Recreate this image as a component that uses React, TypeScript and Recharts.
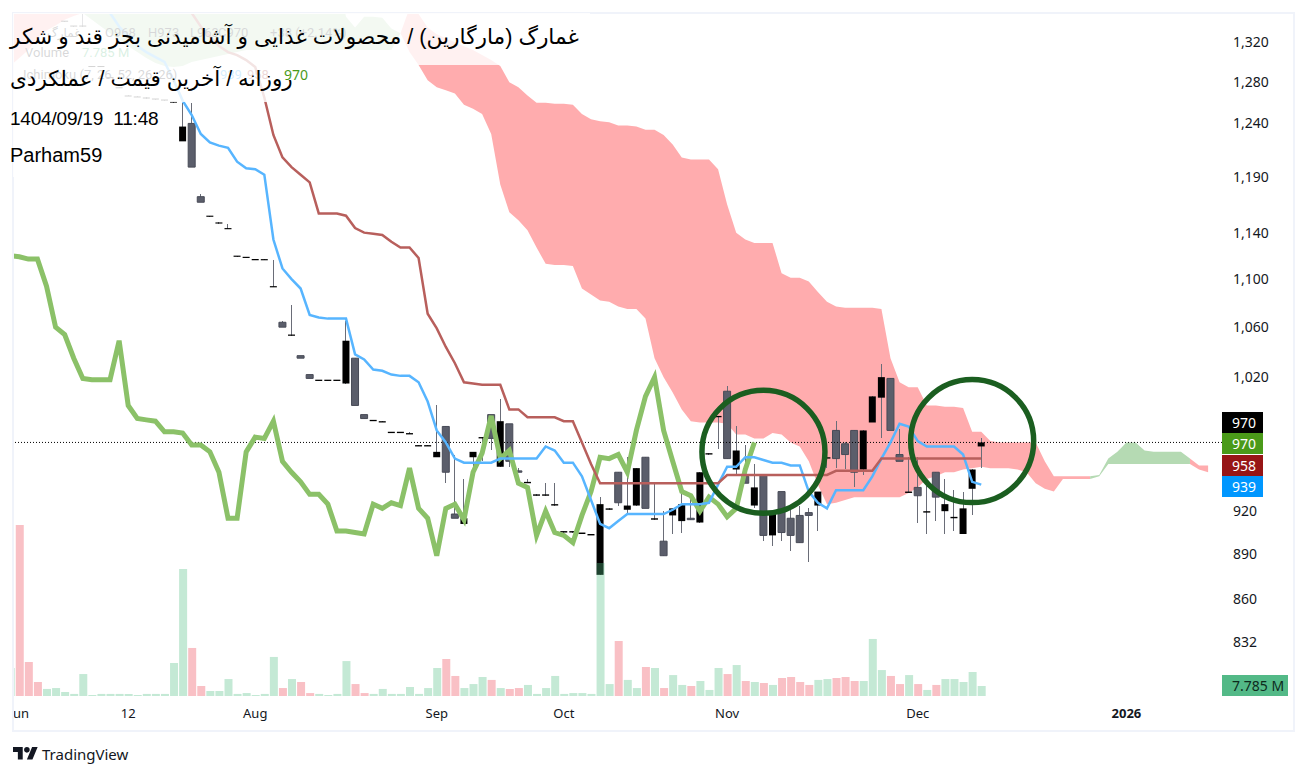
import React from 'react';
import { ComposedChart, Area, Bar, Line, Cell, XAxis, YAxis, ReferenceLine, ReferenceDot } from 'recharts';

const priceTicks = [1320, 1280, 1240, 1190, 1140, 1100, 1060, 1020, 920, 890, 860, 832];
const timeTicks = [0, 12, 26, 46, 60, 78, 99, 122];
const timeLabels = ['Jun', '12', 'Aug', 'Sep', 'Oct', 'Nov', 'Dec', '2026'];

const opens = [
  1480, 1430, 1385, 1370, 1355, 1341, 1336, 1336, 1295, 1295,
  1284, 1274, 1266, 1265, 1264, 1263, 1262, 1260, 1223, 1240,
  1172, 1154, 1148, 1143, 1119, 1118, 1116, 1116, 1093, 1064,
  1053, 1037, 1022, 1017, 1017, 1017, 1015, 1035, 991, 986,
  985, 977, 977, 976, 967, 967, 959, 982, 918, 911,
  959, 973, 991, 952, 984, 949, 940, 931, 931, 924,
  905, 905, 904, 903, 876, 921, 948, 921, 924, 959,
  914, 899, 917, 913, 915, 912, 961, 989, 1009, 950,
  945, 924, 946, 903, 934, 915, 917, 919, 924, 958,
  979, 969, 979, 950, 985, 1004, 1019, 961, 933, 937,
  919, 948, 920, 915, 904, 936, 967,
];
const highs = [
  1490, 1430, 1385, 1375, 1360, 1342, 1337, 1355, 1296, 1296,
  1285, 1275, 1267, 1266, 1265, 1264, 1263, 1261, 1260, 1260,
  1174, 1155, 1149, 1148, 1120, 1119, 1117, 1117, 1116, 1065,
  1078, 1037, 1022, 1018, 1018, 1018, 1065, 1035, 991, 987,
  986, 978, 978, 978, 968, 968, 998, 982, 961, 943,
  963, 974, 991, 1003, 984, 951, 943, 932, 940, 940,
  906, 906, 905, 904, 930, 922, 948, 959, 951, 959,
  940, 920, 922, 932, 930, 948, 962, 990, 1013, 982,
  968, 954, 946, 920, 934, 922, 924, 922, 934, 959,
  986, 970, 979, 979, 1005, 1030, 1019, 980, 959, 959,
  938, 948, 943, 935, 934, 950, 973,
];
const lows = [
  1470, 1420, 1380, 1370, 1355, 1341, 1336, 1336, 1295, 1295,
  1284, 1274, 1266, 1265, 1264, 1263, 1262, 1260, 1223, 1199,
  1167, 1154, 1148, 1143, 1119, 1118, 1116, 1116, 1093, 1060,
  1053, 1035, 1019, 1017, 1017, 1017, 1015, 998, 988, 986,
  985, 977, 977, 976, 967, 967, 959, 940, 915, 911,
  948, 956, 964, 952, 952, 948, 940, 931, 931, 924,
  905, 905, 904, 903, 876, 921, 924, 918, 924, 922,
  914, 889, 904, 905, 914, 912, 961, 965, 958, 945,
  940, 922, 899, 896, 899, 892, 898, 885, 906, 951,
  951, 950, 937, 946, 985, 973, 979, 956, 933, 912,
  904, 913, 904, 906, 904, 917, 951,
];
const closes = [
  1470, 1420, 1380, 1375, 1360, 1342, 1337, 1337, 1296, 1296,
  1285, 1275, 1267, 1266, 1265, 1264, 1263, 1261, 1237, 1199,
  1167, 1155, 1149, 1144, 1120, 1119, 1117, 1117, 1094, 1060,
  1054, 1035, 1019, 1018, 1018, 1018, 1049, 998, 988, 987,
  986, 978, 978, 977, 968, 968, 963, 948, 915, 915,
  963, 974, 973, 986, 956, 948, 941, 932, 932, 925,
  906, 906, 905, 904, 925, 922, 926, 924, 951, 922,
  915, 889, 922, 925, 914, 948, 962, 990, 958, 964,
  940, 937, 903, 920, 905, 903, 898, 917, 934, 959,
  958, 961, 948, 979, 1005, 1020, 979, 956, 934, 931,
  920, 930, 925, 916, 922, 950, 970,
];
// millions
const volumes = [
  133.1, 26.5, 10.9, 5.5, 6.2, 3.1, 1.6, 17.1, 0.8, 1.6,
  1.6, 1.6, 1.6, 0.8, 1.6, 1.6, 1.6, 25.7, 98.9, 37.4,
  7.8, 3.9, 3.9, 13.2, 1.6, 2.3, 0.8, 1.6, 30.4, 6.2,
  13.2, 10.9, 2.3, 1.6, 0.8, 1.6, 27.2, 9.3, 2.3, 1.6,
  5.5, 1.6, 1.6, 7, 1.6, 6.2, 21.8, 28.8, 15.6, 6.2,
  9.3, 14.8, 12.5, 6.2, 5.5, 6.2, 8.6, 1.6, 6.2, 15.6,
  1.6, 2.3, 2.3, 1.6, 103.5, 9.3, 42.8, 12.5, 6.2, 22.6,
  21.8, 6.2, 16.3, 8.6, 7.8, 11.7, 4.7, 21.8, 17.1, 24.1,
  11.7, 10.9, 10.1, 8.6, 14, 14.8, 10.9, 8.6, 12.5, 13.2,
  14, 14.8, 11.7, 11.7, 44.4, 20.2, 15.6, 9.3, 16.3, 9.3,
  4.7, 8.6, 13.2, 13.2, 10.9, 18.7, 7.785,
];

const chikou = [
  1119, 1117, 1117, 1094, 1060, 1054, 1035, 1019, 1018, 1018,
  1018, 1049, 998, 988, 987, 986, 978, 978, 977, 968,
  968, 963, 948, 915, 915, 963, 974, 973, 986, 956,
  948, 941, 932, 932, 925, 906, 906, 905, 904, 925,
  922, 926, 924, 951, 922, 915, 889, 922, 925, 914,
  948, 962, 990, 958, 964, 940, 937, 903, 920, 905,
  903, 898, 917, 934, 959, 958, 961, 948, 979, 1005,
  1020, 979, 956, 934, 931, 920, 930, 925, 916, 922,
  950, 970,
];
const tenkan = [
  null, null, null, null, null, null, null, null, null, null,
  1350, 1336, 1326, 1316, 1310, 1305, 1300, 1282, 1262, 1248,
  1230, 1222, 1219, 1217, 1204, 1198, 1197, 1192, 1134, 1109,
  1100, 1092, 1070, 1068, 1067, 1067, 1067, 1038, 1034, 1026,
  1025, 1022, 1021, 1021, 1016, 1001, 979, 970, 958, 955,
  955, 955, 955, 958, 958, 958, 958, 958, 967, 964,
  955, 955, 945, 928, 911, 908, 913, 918, 918, 918,
  918, 918, 921, 925, 925, 925, 926, 939, 952, 952,
  959, 959, 957, 955, 955, 953, 953, 934, 926, 922,
  935, 935, 935, 935, 945, 958, 970, 984, 982, 971,
  967, 967, 967, 967, 961, 941, 939,
];
const kijun = [
  null, null, null, null, null, null, null, null, null, null,
  null, null, null, null, null, null, null, null, null, 1350,
  1336, 1326, 1316, 1310, 1307, 1302, 1295, 1265, 1229, 1208,
  1199, 1192, 1185, 1157, 1157, 1157, 1155, 1144, 1140, 1139,
  1138, 1132, 1127, 1127, 1118, 1071, 1059, 1044, 1031, 1016,
  1015, 1014, 1014, 1014, 995, 995, 989, 989, 989, 989,
  986, 986, 970, 954, 940, 940, 940, 940, 940, 940,
  940, 940, 940, 940, 940, 940, 940, 940, 946, 946,
  946, 946, 946, 946, 946, 946, 946, 946, 946, 946,
  949, 949, 949, 949, 949, 958, 958, 958, 958, 958,
  958, 958, 958, 958, 958, 958, 958,
];

const cloudUpper = [
  1420, 1420, 1420, 1420, 1420, 1420, 1420, 1350, 1400, 1400,
  1400, 1400, 1400, 1400, 1400, 1400, 1400, 1400, 1400, 1400,
  1400, 1400, 1400, 1400, 1400, 1400, 1400, 1400, 1400, 1400,
  1400, 1400, 1400, 1400, 1400, 1400, 1346, 1335, 1346, 1346,
  1345, 1334, 1329, 1355, 1349, 1335, 1328, 1324, 1320, 1316,
  1312, 1307, 1302, 1296, 1280, 1275, 1267, 1260, 1260, 1259,
  1259, 1258, 1249, 1244, 1242, 1241, 1238, 1238, 1237, 1234,
  1234, 1229, 1220, 1208, 1206, 1206, 1206, 1197, 1165, 1140,
  1134, 1131, 1131, 1131, 1105, 1101, 1101, 1098, 1089, 1081,
  1077, 1076, 1076, 1076, 1076, 1075, 1035, 1016, 1012, 1012,
  998, 998, 997, 997, 996, 978, 978, 971, 970, 970,
  970, 970, 970, 956, 945, 945, 945, 945, 945, 946,
  958, 963, 970, 970, 964, 963, 963, 963, 963, 958,
  953, 953,
];
const cloudLower = [
  1304, 1312, 1324, 1332, 1337, 1343, 1347, 1350, 1343, 1336,
  1329, 1322, 1316, 1310, 1304, 1299, 1296, 1295, 1296, 1300,
  1302, 1304, 1306, 1308, 1310, 1312, 1312, 1312, 1312, 1312,
  1312, 1312, 1312, 1312, 1312, 1312, 1312, 1312, 1312, 1312,
  1312, 1312, 1329, 1310, 1297, 1282, 1275, 1272, 1269, 1258,
  1254, 1249, 1230, 1183, 1158, 1151, 1142, 1127, 1113, 1112,
  1112, 1111, 1092, 1087, 1082, 1081, 1077, 1075, 1075, 1067,
  1035, 1020, 1008, 995, 986, 985, 985, 985, 984, 976,
  976, 973, 973, 977, 976, 970, 967, 956, 939, 925,
  926, 928, 930, 930, 930, 930, 930, 930, 933, 937,
  943, 945, 948, 948, 950, 951, 952, 951, 951, 951,
  950, 948, 940, 936, 934, 943, 943, 943, 943, 945,
  954, 954, 954, 954, 954, 954, 954, 954, 954, 954,
  950, 948,
];
const bearishSpans = [[0, 7], [42, 118], [129, 131]];
const bullishSpans = [[7, 42], [118, 129]];

const lastClose = 970;
const inSpans = (spans: number[][], i: number) => spans.some(([a, b]) => i >= a && i <= b);
const isUp = (i: number) => i < 0 || (i < closes.length && closes[i] >= opens[i]);

// the bar just left of the visible range, only its edge shows
const leadIn = { i: -1, bear: [1296, 1420], bull: null, chikou: 1120, tenkan: null, kijun: null, wick: null, body: null, volume: 21.8 };

const rows = [
  leadIn,
  ...cloudUpper.map((upper, i) => ({
    i,
    bear: inSpans(bearishSpans, i) ? [cloudLower[i], upper] : null,
    bull: inSpans(bullishSpans, i) ? [cloudLower[i], upper] : null,
    chikou: chikou[i] ?? null,
    tenkan: tenkan[i] ?? null,
    kijun: kijun[i] ?? null,
    wick: i < closes.length ? [lows[i], highs[i]] : null,
    body: i < closes.length ? [Math.min(opens[i], closes[i]), Math.max(opens[i], closes[i])] : null,
    volume: volumes[i] ?? null,
  })),
];

const FONT = '"Noto Sans", Roboto, Arial, sans-serif';
const xDomain = [-0.694, 132.53];

const TimeTick = (props: any) => {
  const { x, y, index } = props;
  const label = timeLabels[index];
  return (
    <text x={x} y={y + 14} textAnchor="middle" fontSize={13} fontFamily={FONT} fill="#131722" fontWeight={label === '2026' ? 700 : 400}>
      {label}
    </text>
  );
};

const PriceLabel: React.FC<{ top: number; width?: number; bg: string; color?: string; text: string }> = ({ top, width = 41, bg, color = '#fff', text }) => (
  <div style={{ position: 'absolute', left: 1222, top, width, height: 21, background: bg, color, fontFamily: FONT, fontSize: 14, lineHeight: '21px', paddingLeft: 10, boxSizing: 'border-box', whiteSpace: 'nowrap' }}>
    {text}
  </div>
);

const Veil: React.FC<{ left: number; top: number; width: number; height: number }> = (p) => (
  <div style={{ position: 'absolute', ...p, background: 'rgba(255,255,255,0.83)' }} />
);

const Faint: React.FC<{ left: number; top: number; color?: string; text: string }> = ({ left, top, color = '#131722', text }) => (
  <div style={{ position: 'absolute', left, top, color, fontFamily: 'Roboto, sans-serif', fontSize: 13, lineHeight: '16px', whiteSpace: 'nowrap' }}>{text}</div>
);

const Title: React.FC<{ top: number; text: string; rtl?: boolean; size?: number; spacing?: number }> = ({ top, text, rtl, size = 20, spacing = 0 }) => (
  <div dir={rtl ? 'rtl' : 'ltr'} style={{ position: 'absolute', left: 10, top, color: '#000', fontFamily: '"Liberation Sans", "DejaVu Sans", sans-serif', fontSize: size, letterSpacing: spacing, lineHeight: '26px', whiteSpace: 'nowrap' }}>
    {text}
  </div>
);

export default function App() {
  return (
    <div style={{ position: 'absolute', left: 0, top: 0, width: 1307, height: 775, background: '#fff', overflow: 'hidden' }}>
      <ComposedChart width={1307} height={775} data={rows} margin={{ top: 13, right: 0, bottom: 49, left: 13 }}>
        <XAxis xAxisId="time" dataKey="i" type="number" domain={xDomain} allowDataOverflow ticks={timeTicks} interval={0} height={30} axisLine={false} tickLine={false} tick={<TimeTick />} />
        <XAxis xAxisId="wicks" dataKey="i" type="number" domain={xDomain} allowDataOverflow hide />
        <XAxis xAxisId="vols" dataKey="i" type="number" domain={xDomain} allowDataOverflow hide />
        <YAxis yAxisId="price" orientation="right" scale="log" domain={[798, 1350]} allowDataOverflow ticks={priceTicks} interval={0} width={85} axisLine={false} tickLine={false} tickMargin={5} tick={{ fontSize: 14, fontFamily: FONT, fill: '#131722', textAnchor: 'start' }} tickFormatter={(v) => v.toLocaleString('en-US')} />
        <YAxis yAxisId="vol" domain={[0, 531.7]} hide />

        <ReferenceLine xAxisId="time" yAxisId="price" y={lastClose} stroke="#000" strokeWidth={1} strokeDasharray="1 2" />
        <Area xAxisId="time" yAxisId="price" dataKey="bear" type="linear" stroke="none" fill="#ffacae" fillOpacity={1} isAnimationActive={false} />
        <Area xAxisId="time" yAxisId="price" dataKey="bull" type="linear" stroke="none" fill="#b5dab3" fillOpacity={1} isAnimationActive={false} />
        <Line xAxisId="time" yAxisId="price" dataKey="chikou" type="linear" stroke="#8bc168" strokeWidth={5} dot={false} isAnimationActive={false} />
        <Line xAxisId="time" yAxisId="price" dataKey="tenkan" type="linear" stroke="#57b5ff" strokeWidth={2.5} dot={false} isAnimationActive={false} />
        <Line xAxisId="time" yAxisId="price" dataKey="kijun" type="linear" stroke="#b85f5c" strokeWidth={2.5} dot={false} isAnimationActive={false} />
        <Bar xAxisId="wicks" yAxisId="price" dataKey="wick" barSize={1} fill="#6a6d78" isAnimationActive={false} shapeRendering="crispEdges" />
        <Bar xAxisId="time" yAxisId="price" dataKey="body" barSize={7} isAnimationActive={false}>
          {rows.map((r) => (
            <Cell key={r.i} fill={isUp(r.i) ? '#000' : '#5b5e6b'} stroke={isUp(r.i) ? '#000' : '#484b57'} strokeWidth={isUp(r.i) ? 0 : 1} />
          ))}
        </Bar>
        <Bar xAxisId="vols" yAxisId="vol" dataKey="volume" barSize={8} isAnimationActive={false}>
          {rows.map((r) => (
            <Cell key={r.i} fill={isUp(r.i) ? 'rgba(85,193,136,0.35)' : 'rgba(237,74,88,0.35)'} />
          ))}
        </Bar>
        <ReferenceDot xAxisId="time" yAxisId="price" x={82} y={963} r={61.5} fill="none" stroke="#1b5e20" strokeWidth={5.5} />
        <ReferenceDot xAxisId="time" yAxisId="price" x={105} y={971} r={61.5} fill="none" stroke="#1b5e20" strokeWidth={5.5} />
      </ComposedChart>

      <div style={{ position: 'absolute', left: 0, top: 0, width: 13, height: 775, background: '#fff' }} />
      <div style={{ position: 'absolute', left: 12, top: 12, width: 1283, height: 720, border: '2px solid #f0f3fa', boxSizing: 'border-box' }} />

      <PriceLabel top={412} bg="#000" text="970" />
      <PriceLabel top={433} bg="#4a9a19" text="970" />
      <PriceLabel top={455} bg="#971516" text="958" />
      <PriceLabel top={476} bg="#0097ff" text="939" />
      <PriceLabel top={675} width={66} bg="#53b987" color="#0d2b1d" text="7.785 M" />

      <div dir="rtl" style={{ position: 'absolute', left: 47, top: 25, color: '#131722', fontFamily: '"DejaVu Sans", sans-serif', fontSize: 12, lineHeight: '16px' }}>غمارگ</div>
      <Faint left={105} top={25} text="O968" />
      <Faint left={148} top={25} text="H973" />
      <Faint left={190} top={25} text="L963" />
      <Faint left={218} top={25} text="C970" />
      <Faint left={270} top={25} text="+38 (+2.14%)" />
      <Faint left={25} top={45} text="Volume" />
      <Faint left={82} top={45} color="#26a65b" text="7.785 M" />
      <Faint left={23} top={67} text="Ichimoku (7, 26, 52, 26, 26)" />
      <Faint left={220} top={67} color="#0097ff" text="939" />
      <Faint left={247} top={67} color="#971516" text="958" />

      <Veil left={13} top={13} width={577} height={52} />
      <Veil left={13} top={65} width={285} height={37} />
      <Veil left={13} top={102} width={152} height={35} />
      <Veil left={13} top={137} width={97} height={40} />

      <Title top={24} rtl size={21.7} text="غمارگ (مارگارین) / محصولات غذایی و آشامیدنی بجز قند و شکر" />
      <Title top={66} rtl size={21.5} text="روزانه / آخرین قیمت / عملکردی" />
      <Title top={106} size={19} spacing={-0.2} text={'1404/09/19\u00A0\u00A011:48'} />
      <Title top={142} text="Parham59" />
      <div style={{ position: 'absolute', left: 284, top: 66, color: '#4a9a19', fontFamily: FONT, fontSize: 14, lineHeight: '18px' }}>970</div>

      <svg style={{ position: 'absolute', left: 13, top: 747 }} width={25} height={13} viewBox="0 0 36 18.5">
        <path d="M14 18H7V7H0V0h14v18zM28 18h-8l7.5-18h8L28 18z" fill="#131722" />
        <circle cx="20" cy="4" r="4" fill="#131722" />
      </svg>
      <div style={{ position: 'absolute', left: 42, top: 744, color: '#131722', fontFamily: FONT, fontSize: 15, lineHeight: '20px' }}>TradingView</div>
    </div>
  );
}
